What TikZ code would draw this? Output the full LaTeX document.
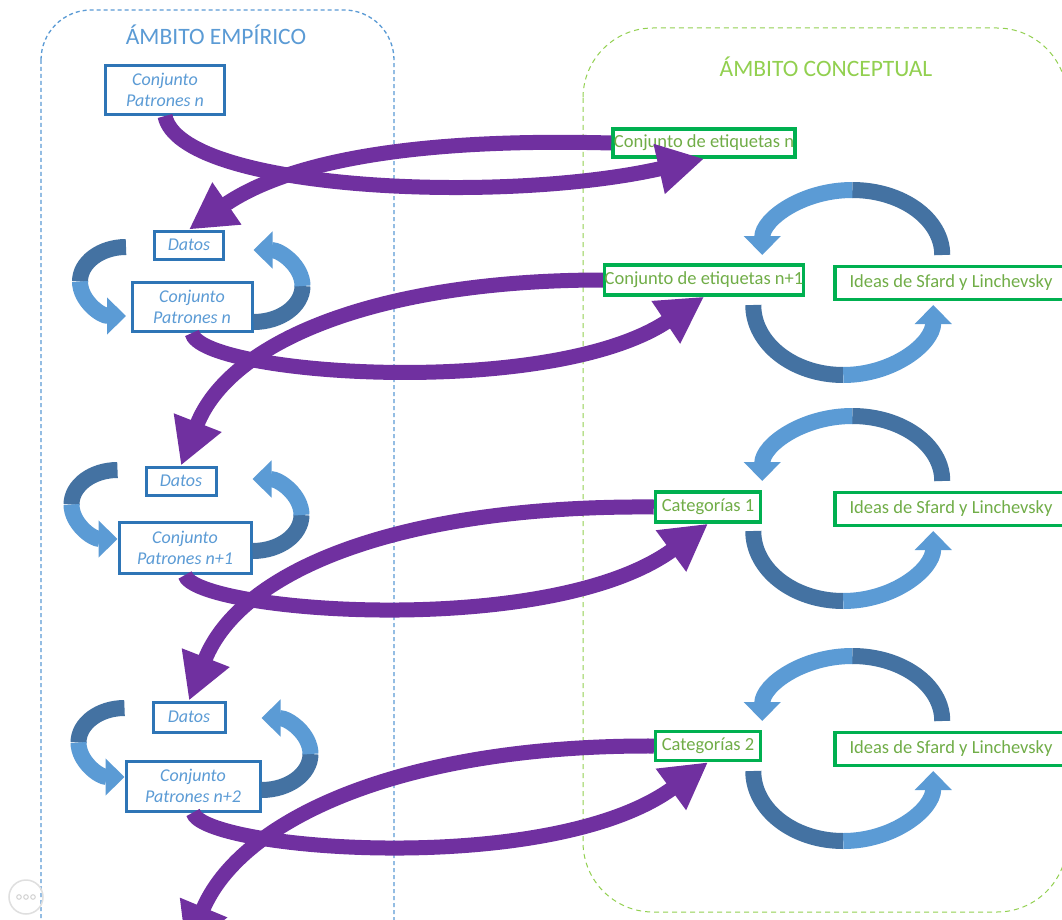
\documentclass[tikz,border=0pt]{standalone}
\usepackage{fontspec}
\setmainfont{Carlito}
\usepackage{tikz}
\usetikzlibrary{arrows.meta}
\definecolor{morado}{RGB}{112,48,160}
\definecolor{azulborde}{RGB}{46,117,182}
\definecolor{azultexto}{RGB}{91,155,213}
\definecolor{azuloscuro}{RGB}{68,114,162}
\definecolor{azulclaro}{RGB}{91,155,213}
\definecolor{verdeborde}{RGB}{0,176,80}
\definecolor{verdetexto}{RGB}{112,173,71}
\definecolor{verdetitulo}{RGB}{146,208,80}

\begin{document}
\begin{tikzpicture}[x=1pt,y=-1pt,
  caja/.style={draw=azulborde,line width=3pt,fill=white,text=azultexto,inner sep=0pt,
    align=center,font=\itshape\fontsize{18}{21}\selectfont},
  etiqueta/.style={draw=verdeborde,line width=3.5pt,fill=white,text=verdetexto,
    inner sep=0pt,font=\fontsize{18.5}{22}\selectfont},
  titulo/.style={font=\fontsize{23.5}{28}\selectfont},
  flecha/.style={draw=morado,line width=15pt,-{Triangle[width=48pt,length=46pt]}},
  ciclo/.style={line width=16pt},
  oscuro/.style={draw=azuloscuro},
  claro/.style={draw=azulclaro,-{Triangle[width=36pt,length=19pt]}}]
  \path[use as bounding box,fill=white] (0,0) rectangle (1062,920);

  % ambitos
  \draw[azulclaro,line width=1.3pt,dash pattern=on 4pt off 3pt,rounded corners=50pt]
    (41,10) rectangle (394,990);
  \draw[verdetitulo,line width=1pt,dash pattern=on 5pt off 4pt,rounded corners=70pt]
    (583,28) rectangle (1067,912);
  \node[titulo,text=azulclaro] (tEmp) at (216,35) {ÁMBITO EMPÍRICO};
  \node[titulo,text=verdetitulo] (tCon) at (826,67) {ÁMBITO CONCEPTUAL};

  % lado empirico
  \node[caja,minimum width=119,minimum height=49] (pZ) at (165,90) {Conjunto\\Patrones n};
  \node[caja,minimum width=69,minimum height=28] (dA) at (189,245) {Datos};
  \node[caja,minimum width=120,minimum height=49] (pA) at (192,307) {Conjunto\\Patrones n};
  \node[caja,minimum width=70,minimum height=28] (dB) at (181,481) {Datos};
  \node[caja,minimum width=132,minimum height=51] (pB) at (185,548) {Conjunto\\Patrones n+1};
  \node[caja,minimum width=72,minimum height=30] (dC) at (189,717) {Datos};
  \node[caja,minimum width=134,minimum height=50] (pC) at (193,786) {Conjunto\\Patrones n+2};

  % lado conceptual
  \node[etiqueta,minimum width=182,minimum height=28] (eZ) at (704,143) {Conjunto de etiquetas n};
  \node[etiqueta,minimum width=198,minimum height=30] (eA) at (704,280) {Conjunto de etiquetas n+1};
  \node[etiqueta,minimum width=105,minimum height=30] (cA) at (708,507) {Categorías 1};
  \node[etiqueta,minimum width=105,minimum height=29] (cB) at (708,746) {Categorías 2};
  \node[etiqueta,minimum width=232,minimum height=33] (iA) at (951,283) {Ideas de Sfard y Linchevsky};
  \node[etiqueta,minimum width=232,minimum height=33] (iB) at (951,509) {Ideas de Sfard y Linchevsky};
  \node[etiqueta,minimum width=232,minimum height=33] (iC) at (951,749) {Ideas de Sfard y Linchevsky};

  % ciclos datos/patrones
  \foreach \d/\p/\a/\b in {dA/pA/2/15, dB/pB/-11/3, dC/pC/-9/4} {
    \draw[ciclo,oscuro] ([shift={(-27,\a)}]\d.west)
      arc[start angle=270,end angle=180,x radius=46,y radius=34.5] coordinate (m);
    \draw[ciclo,claro] (m) arc[start angle=180,end angle=90,x radius=46,y radius=34.5];
    \draw[ciclo,oscuro] ([shift={(0,\b)}]\p.east)
      arc[start angle=90,end angle=0,x radius=49,y radius=36] coordinate (m);
    \draw[ciclo,claro] (m) arc[start angle=0,end angle=-90,x radius=49,y radius=36];
  }

  % ciclos etiquetas/ideas
  \foreach \i in {iA,iB,iC} {
    \draw[ciclo,oscuro] ([shift={(109,-28)}]\i.west)
      arc[start angle=0,end angle=-90,x radius=90,y radius=65] coordinate (m);
    \draw[ciclo,claro] (m) arc[start angle=-90,end angle=-180,x radius=90,y radius=65];
    \draw[ciclo,oscuro] ([shift={(-80,22)}]\i.west)
      arc[start angle=180,end angle=90,x radius=90,y radius=70] coordinate (m);
    \draw[ciclo,claro] (m) arc[start angle=90,end angle=0,x radius=90,y radius=70];
  }

  % flechas entre ambitos
  \coordinate (fin) at (186,950);
  \draw[flecha] (pZ.south) .. controls (180,190) and (500,205) .. (eZ.south);
  \draw[flecha] (eZ.west) .. controls (420,138) and (290,160) .. (dA.north);
  \draw[flecha] (pA.south) .. controls (200,375) and (550,400) .. (eA.south);
  \draw[flecha] (eA.west) .. controls (380,280) and (230,340) .. (dB.north);
  \draw[flecha] (pB.south) .. controls (195,612) and (550,640) .. (cA.south);
  \draw[flecha] (cA.west) .. controls (400,505) and (240,570) .. (dC.north);
  \draw[flecha] (pC.south) .. controls (203,850) and (550,878) .. (cB.south);
  \draw[flecha] (cB.west) .. controls (400,745) and (240,820) .. (fin);

  \draw[gray!25,line width=1.5pt] (26,897) circle (17);
  \foreach \x in {19,26,33} \draw[gray!35,line width=1pt] (\x,897) circle (2.3);
\end{tikzpicture}
\end{document}
